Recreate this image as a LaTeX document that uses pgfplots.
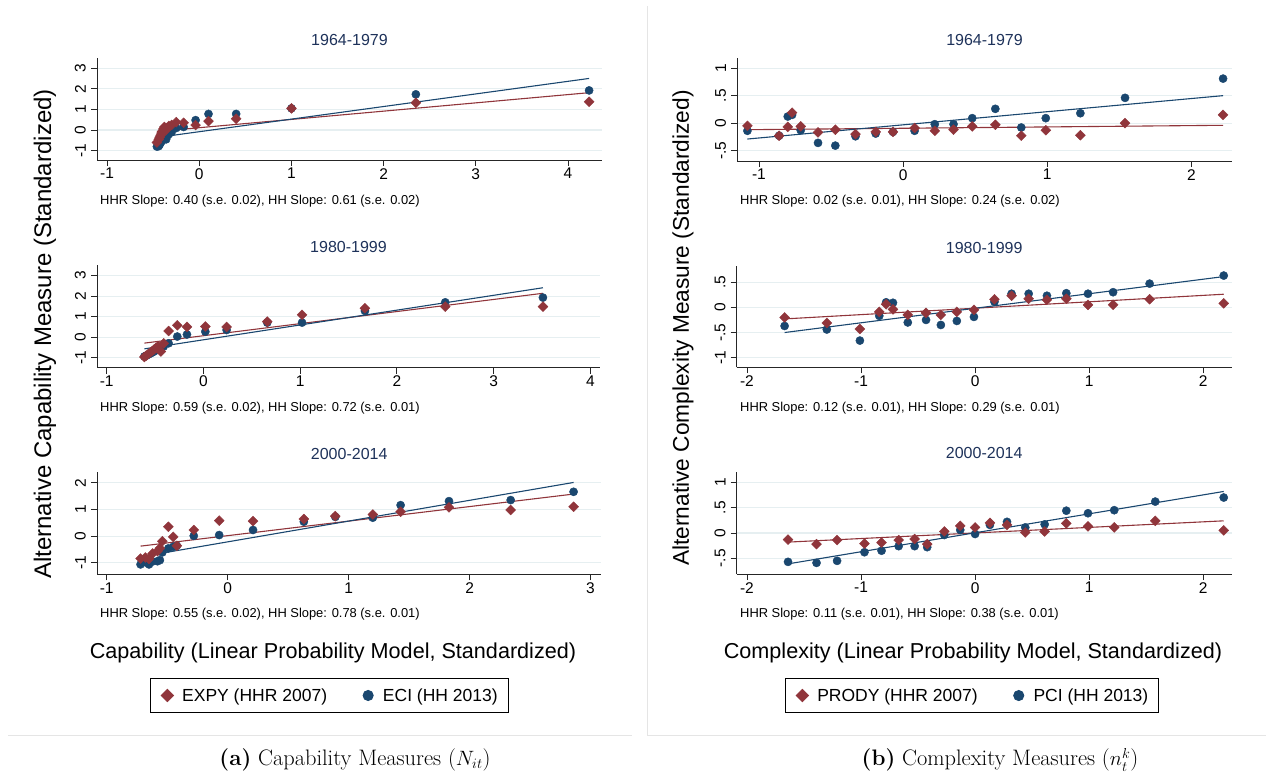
\documentclass[border=0pt]{standalone}
\usepackage{fontspec}
\setsansfont{Liberation Sans}
\usepackage{pgfplots}
\pgfplotsset{compat=1.18}
\definecolor{cred}{RGB}{144,53,59}
\definecolor{cblue}{RGB}{26,71,111}
\definecolor{gridc}{RGB}{230,239,241}
\definecolor{titlec}{RGB}{30,50,90}
\pgfplotsset{
  panel/.style={scale only axis, anchor=south west, clip=false,
    axis lines*=left, axis line style={black!85, line width=0.8pt},
    tick align=outside, major tick length=6pt,
    tick style={black!85, line width=0.8pt},
    ymajorgrids, grid style={gridc, line width=1.2pt},
    ticklabel style={font=\sffamily\fontsize{15.5}{16}\selectfont, inner sep=0pt},
    yticklabel style={rotate=90, anchor=south},
    xticklabel shift=2pt, yticklabel shift=5pt,
    title style={font=\sffamily\fontsize{16}{16}\selectfont, text=titlec, inner sep=0pt, anchor=south, at={(0.5,1)}, yshift=6.6pt},
  },
  redm/.style={only marks, mark=square*, mark size=3.5pt, mark options={rotate=45, fill=cred, draw=cred}},
  bluem/.style={only marks, mark=*, mark size=4.1pt, mark options={fill=cblue, draw=cblue}},
  redl/.style={no markers, cred, line width=1.1pt, forget plot},
  bluel/.style={no markers, cblue, line width=1.1pt, forget plot},
  mylegend/.style={
    reverse legend, legend columns=2,
    legend style={draw=black, line width=0.8pt, fill=white,
      font=\sffamily\fontsize{17.5}{18}\selectfont,
      inner xsep=8.5pt, inner ysep=8pt,
      /tikz/every even column/.append style={column sep=30.5pt}},
    legend image code/.code={\path[draw=none,fill=none] (0cm,0cm) -- (0.75cm,0cm);
      \draw[##1, every mark/.append style={scale=1.25}] plot coordinates {(0.3cm,0cm)};}},
}
\begin{document}
\begin{tikzpicture}
\useasboundingbox (0pt,0pt) rectangle (1266pt,-779pt);
% subfigure frames
\draw[black!10, line width=0.8pt] (8pt,-735pt) -- (632pt,-735pt);
\draw[black!10, line width=0.8pt] (647pt,-6pt) -- (647pt,-735pt) -- (1266pt,-735pt);

% ---------------- Panel 1 ----------------
\begin{axis}[panel, at={(97pt,-160pt)}, width=505pt, height=102pt,
  xmin=-1.11, xmax=4.37, ymin=-1.45, ymax=3.49,
  xtick={-1,0,1,2,3,4}, xticklabels={-1,0,1,2,3,4},
  ytick={-1,0,1,2,3}, yticklabels={-1,0,1,2,3}, title={1964-1979}]
\addplot[bluem] coordinates {(-0.46,-0.80)(-0.44,-0.78)(-0.43,-0.70)(-0.42,-0.62)(-0.41,-0.55)(-0.40,-0.48)(-0.39,-0.42)(-0.38,-0.36)(-0.36,-0.45)(-0.35,-0.30)(-0.33,-0.20)(-0.30,-0.10)(-0.25,0.10)(-0.17,0.15)(-0.04,0.48)(0.10,0.78)(0.40,0.78)(1.00,1.05)(2.35,1.73)(4.23,1.92)};
\addplot[redm] coordinates {(-0.46,-0.60)(-0.44,-0.45)(-0.43,-0.35)(-0.42,-0.25)(-0.41,-0.15)(-0.40,-0.05)(-0.39,0.05)(-0.38,0.15)(-0.36,0.00)(-0.35,0.10)(-0.33,0.20)(-0.30,0.25)(-0.25,0.38)(-0.17,0.35)(-0.04,0.24)(0.10,0.43)(0.40,0.55)(1.00,1.05)(2.35,1.32)(4.23,1.37)};
\addplot[redl] coordinates {(-0.46,-0.07)(4.23,1.81)};
\addplot[bluel] coordinates {(-0.46,-0.36)(4.23,2.50)};
\end{axis}

% ---------------- Panel 2 ----------------
\begin{axis}[panel, at={(97pt,-367.7pt)}, width=503pt, height=102.7pt,
  xmin=-1.10, xmax=4.10, ymin=-1.49, ymax=3.52,
  xtick={-1,0,1,2,3,4}, xticklabels={-1,0,1,2,3,4},
  ytick={-1,0,1,2,3}, yticklabels={-1,0,1,2,3}, title={1980-1999}]
\addplot[bluem] coordinates {(-0.61,-0.94)(-0.59,-0.90)(-0.57,-0.85)(-0.55,-0.80)(-0.53,-0.75)(-0.51,-0.70)(-0.49,-0.62)(-0.47,-0.55)(-0.44,-0.58)(-0.41,-0.45)(-0.36,-0.30)(-0.27,0.03)(-0.17,0.13)(0.02,0.27)(0.24,0.35)(0.66,0.71)(1.02,0.71)(1.67,1.28)(2.50,1.70)(3.51,1.93)};
\addplot[redm] coordinates {(-0.61,-0.97)(-0.59,-0.90)(-0.57,-0.82)(-0.55,-0.75)(-0.53,-0.68)(-0.51,-0.60)(-0.49,-0.52)(-0.47,-0.45)(-0.44,-0.70)(-0.41,-0.30)(-0.36,0.30)(-0.27,0.58)(-0.17,0.50)(0.02,0.52)(0.24,0.50)(0.66,0.76)(1.02,1.09)(1.67,1.41)(2.50,1.49)(3.51,1.49)};
\addplot[redl] coordinates {(-0.61,-0.29)(3.51,2.14)};
\addplot[bluel] coordinates {(-0.61,-0.57)(3.51,2.41)};
\end{axis}

% ---------------- Panel 3 ----------------
\begin{axis}[panel, at={(97pt,-574.3pt)}, width=504.4pt, height=102pt,
  xmin=-1.08, xmax=3.09, ymin=-1.43, ymax=2.39,
  xtick={-1,0,1,2,3}, xticklabels={-1,0,1,2,3},
  ytick={-1,0,1,2}, yticklabels={-1,0,1,2}, title={2000-2014},
  mylegend,
  legend style={at={(axis description cs:0.105,-1.188)}, anchor=west}]
\addplot[bluem] coordinates {(-0.72,-1.06)(-0.68,-0.98)(-0.65,-1.06)(-0.62,-0.95)(-0.58,-0.94)(-0.56,-0.90)(-0.54,-0.61)(-0.49,-0.46)(-0.45,-0.40)(-0.42,-0.36)(-0.28,0.01)(-0.07,0.04)(0.21,0.23)(0.63,0.54)(0.89,0.72)(1.20,0.69)(1.43,1.16)(1.83,1.31)(2.34,1.35)(2.86,1.66)};
\addlegendentry{ECI (HH 2013)}
\addplot[redm] coordinates {(-0.72,-0.84)(-0.68,-0.80)(-0.65,-0.85)(-0.62,-0.65)(-0.58,-0.56)(-0.56,-0.45)(-0.54,-0.19)(-0.49,0.35)(-0.45,-0.03)(-0.42,-0.36)(-0.28,0.23)(-0.07,0.58)(0.21,0.56)(0.63,0.64)(0.89,0.75)(1.20,0.81)(1.43,0.91)(1.83,1.08)(2.34,0.98)(2.86,1.10)};
\addlegendentry{EXPY (HHR 2007)}
\addplot[redl] coordinates {(-0.72,-0.375)(2.86,1.575)};
\addplot[bluel] coordinates {(-0.72,-0.775)(2.86,2.01)};
\end{axis}

% ---------------- Panel 4 ----------------
\begin{axis}[panel, at={(737.3pt,-161pt)}, width=494.4pt, height=102.7pt,
  xmin=-1.15, xmax=2.28, ymin=-0.69, ymax=1.18,
  xtick={-1,0,1,2}, xticklabels={-1,0,1,2},
  ytick={-0.5,0,0.5,1}, yticklabels={-.5,0,.5,1}, title={1964-1979}]
\addplot[bluem] coordinates {(-1.08,-0.14)(-0.86,-0.23)(-0.80,0.12)(-0.77,0.15)(-0.71,-0.13)(-0.59,-0.36)(-0.47,-0.41)(-0.33,-0.24)(-0.19,-0.19)(-0.07,-0.16)(0.08,-0.14)(0.22,-0.02)(0.35,-0.02)(0.48,0.09)(0.64,0.26)(0.82,-0.08)(0.99,0.09)(1.23,0.18)(1.54,0.46)(2.22,0.81)};
\addplot[redm] coordinates {(-1.08,-0.05)(-0.86,-0.23)(-0.80,-0.07)(-0.77,0.19)(-0.71,-0.06)(-0.59,-0.17)(-0.47,-0.12)(-0.33,-0.20)(-0.19,-0.16)(-0.07,-0.16)(0.08,-0.09)(0.22,-0.14)(0.35,-0.12)(0.48,-0.06)(0.64,-0.03)(0.82,-0.23)(0.99,-0.13)(1.23,-0.22)(1.54,0.00)(2.22,0.15)};
\addplot[redl] coordinates {(-1.08,-0.12)(2.22,-0.04)};
\addplot[bluel] coordinates {(-1.08,-0.29)(2.22,0.50)};
\end{axis}

% ---------------- Panel 5 ----------------
\begin{axis}[panel, at={(736.7pt,-367.3pt)}, width=495pt, height=101.3pt,
  xmin=-2.09, xmax=2.25, ymin=-1.19, ymax=0.82,
  xtick={-2,-1,0,1,2}, xticklabels={-2,-1,0,1,2},
  ytick={-1,-0.5,0,0.5}, yticklabels={-1,-.5,0,.5}, title={1980-1999}]
\addplot[bluem] coordinates {(-1.67,-0.37)(-1.30,-0.44)(-1.01,-0.66)(-0.84,-0.17)(-0.78,0.10)(-0.72,0.09)(-0.59,-0.30)(-0.43,-0.25)(-0.30,-0.35)(-0.16,-0.27)(-0.01,-0.19)(0.17,0.11)(0.32,0.27)(0.47,0.27)(0.63,0.23)(0.80,0.28)(0.99,0.27)(1.21,0.30)(1.53,0.47)(2.18,0.63)};
\addplot[redm] coordinates {(-1.67,-0.20)(-1.30,-0.31)(-1.01,-0.43)(-0.84,-0.09)(-0.78,0.06)(-0.72,-0.04)(-0.59,-0.15)(-0.43,-0.11)(-0.30,-0.15)(-0.16,-0.09)(-0.01,-0.05)(0.17,0.16)(0.32,0.23)(0.47,0.17)(0.63,0.15)(0.80,0.17)(0.99,0.05)(1.21,0.05)(1.53,0.16)(2.18,0.08)};
\addplot[redl] coordinates {(-1.67,-0.23)(2.18,0.26)};
\addplot[bluel] coordinates {(-1.67,-0.50)(2.18,0.61)};
\end{axis}

% ---------------- Panel 6 ----------------
\begin{axis}[panel, at={(736.7pt,-574pt)}, width=495pt, height=102.3pt,
  xmin=-2.09, xmax=2.25, ymin=-0.81, ymax=1.21,
  xtick={-2,-1,0,1,2}, xticklabels={-2,-1,0,1,2},
  ytick={-0.5,0,0.5,1}, yticklabels={-.5,0,.5,1}, title={2000-2014},
  mylegend,
  legend style={at={(axis description cs:0.0976,-1.188)}, anchor=west}]
\addplot[bluem] coordinates {(-1.64,-0.57)(-1.39,-0.59)(-1.21,-0.55)(-0.97,-0.38)(-0.82,-0.35)(-0.67,-0.26)(-0.53,-0.26)(-0.42,-0.28)(-0.27,-0.04)(-0.13,0.06)(0.00,-0.02)(0.13,0.16)(0.28,0.22)(0.44,0.11)(0.61,0.17)(0.80,0.44)(0.99,0.39)(1.22,0.45)(1.58,0.62)(2.18,0.70)};
\addlegendentry{PCI (HH 2013)}
\addplot[redm] coordinates {(-1.64,-0.13)(-1.39,-0.22)(-1.21,-0.14)(-0.97,-0.21)(-0.82,-0.19)(-0.67,-0.14)(-0.53,-0.12)(-0.42,-0.22)(-0.27,0.03)(-0.13,0.14)(0.00,0.11)(0.13,0.20)(0.28,0.16)(0.44,0.01)(0.61,0.03)(0.80,0.19)(0.99,0.13)(1.22,0.11)(1.58,0.24)(2.18,0.05)};
\addlegendentry{PRODY (HHR 2007)}
\addplot[redl] coordinates {(-1.64,-0.18)(2.18,0.24)};
\addplot[bluel] coordinates {(-1.64,-0.61)(2.18,0.82)};
\end{axis}

% slope texts
\begin{scope}[every node/.style={font=\sffamily\fontsize{12.9}{13}\selectfont, anchor=base west, inner sep=0pt}]
\node at (100pt,-204pt) {HHR Slope: 0.40 (s.e. 0.02), HH Slope: 0.61 (s.e. 0.02)};
\node at (100pt,-411pt) {HHR Slope: 0.59 (s.e. 0.02), HH Slope: 0.72 (s.e. 0.01)};
\node at (100pt,-617pt) {HHR Slope: 0.55 (s.e. 0.02), HH Slope: 0.78 (s.e. 0.01)};
\node at (740pt,-204pt) {HHR Slope: 0.02 (s.e. 0.01), HH Slope: 0.24 (s.e. 0.02)};
\node at (740pt,-411pt) {HHR Slope: 0.12 (s.e. 0.01), HH Slope: 0.29 (s.e. 0.01)};
\node at (740pt,-617pt) {HHR Slope: 0.11 (s.e. 0.01), HH Slope: 0.38 (s.e. 0.01)};
\end{scope}

% axis titles
\node[font=\sffamily\fontsize{21.6}{22}\selectfont, inner sep=0pt] at (333pt,-653pt) {Capability (Linear Probability Model, Standardized)};
\node[font=\sffamily\fontsize{21.6}{22}\selectfont, inner sep=0pt] at (973pt,-653pt) {Complexity (Linear Probability Model, Standardized)};
\node[font=\sffamily\fontsize{24}{24}\selectfont, inner sep=0pt, rotate=90] at (45pt,-334pt) {Alternative Capability Measure (Standardized)};
\node[font=\sffamily\fontsize{22.7}{23}\selectfont, inner sep=0pt, rotate=90] at (683pt,-328pt) {Alternative Complexity Measure (Standardized)};

% captions
\node[font=\fontsize{22.4}{26}\selectfont, inner sep=0pt] at (355pt,-760pt) {\textbf{(a)} Capability Measures ($N_{it}$)};
\node[font=\fontsize{22.4}{26}\selectfont, inner sep=0pt] at (1000pt,-760pt) {\textbf{(b)} Complexity Measures ($n_t^k$)};
\end{tikzpicture}
\end{document}
